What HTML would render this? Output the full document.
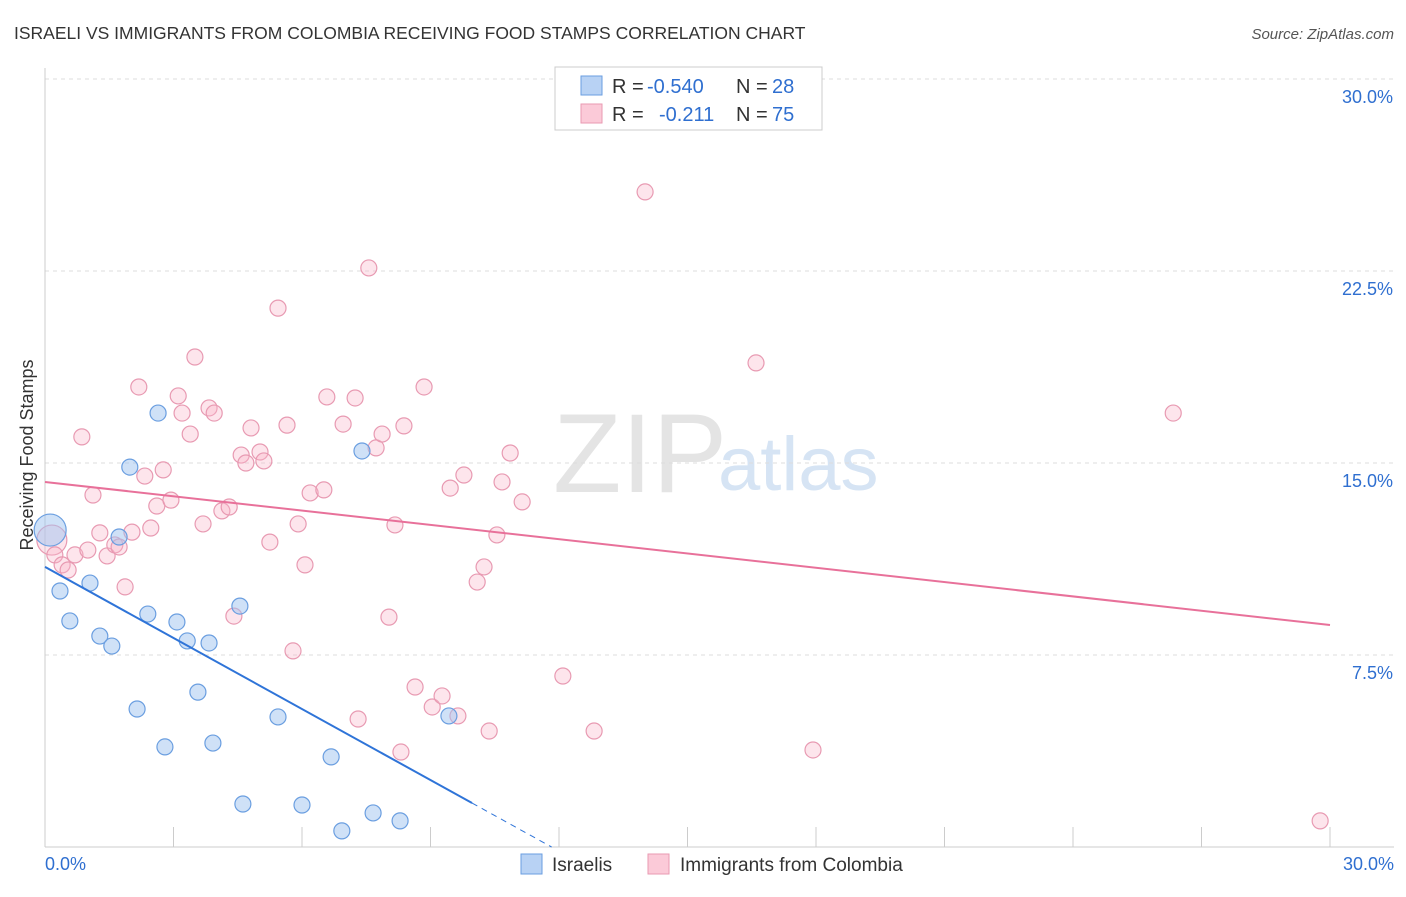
<!DOCTYPE html>
<html><head><meta charset="utf-8"><style>
body{margin:0;background:#fff;font-family:"Liberation Sans",sans-serif}
svg text{font-family:"Liberation Sans",sans-serif}
</style></head><body>
<svg id="c" width="1406" height="892">
<text x="14" y="39" font-size="17.5" fill="#333">ISRAELI VS IMMIGRANTS FROM COLOMBIA RECEIVING FOOD STAMPS CORRELATION CHART</text>
<text x="1394" y="39" font-size="15" fill="#555" text-anchor="end" font-style="italic">Source: ZipAtlas.com</text>
<text x="553" y="492" font-size="112" fill="#e4e4e4" font-family="Liberation Serif">ZIP</text>
<text x="718" y="490" font-size="76" fill="#d6e4f4">atlas</text>
<g id="grid"></g>
<g id="axes"></g>
<text transform="translate(33,455) rotate(-90)" font-size="18" fill="#333" text-anchor="middle">Receiving Food Stamps</text>
<g id="pts"></g>
<g id="lines"></g>
<g>
<rect x="555" y="67" width="267" height="63" fill="#fff" stroke="#ccc"/>
<rect x="581" y="76" width="21" height="19" fill="#b8d2f4" stroke="#6a9ee0"/>
<rect x="581" y="104" width="21" height="19" fill="#fbcad8" stroke="#e89ab2"/>
<text y="93" font-size="20" fill="#333"><tspan x="612">R =</tspan><tspan x="647" fill="#2f6fd0">-0.540</tspan><tspan x="736">N =</tspan><tspan x="772" fill="#2f6fd0">28</tspan></text>
<text y="121" font-size="20" fill="#333"><tspan x="612">R =</tspan><tspan x="659" fill="#2f6fd0">-0.211</tspan><tspan x="736">N =</tspan><tspan x="772" fill="#2f6fd0">75</tspan></text>
</g>
<g>
<rect x="521" y="854" width="21" height="20" fill="#b8d2f4" stroke="#6a9ee0"/>
<text x="552" y="871" font-size="19" fill="#333">Israelis</text>
<rect x="648" y="854" width="21" height="20" fill="#fbcad8" stroke="#e89ab2"/>
<text x="680" y="871" font-size="19" fill="#333">Immigrants from Colombia</text>
</g>
</svg>
<script>
const yTicks=[7.5,15,22.5,30];
const yTickLabels=["7.5%","15.0%","22.5%","30.0%"];
const xTickLabels=["0.0%","30.0%"];
const blueX=[0.12,0.35,0.58,1.05,1.28,1.56,1.98,1.73,2.15,2.40,2.64,2.80,3.08,3.32,3.57,3.83,3.92,4.55,4.62,5.44,6.00,6.68,6.93,7.40,7.66,8.29,9.43];
const blueY=[12.38,10.0,8.83,10.31,8.24,7.85,14.84,12.11,5.39,9.10,16.95,3.91,8.79,8.05,6.05,7.97,4.06,9.41,1.68,5.08,1.64,3.52,0.63,15.47,1.33,1.02,5.12];
const pinkX=[0.16,0.23,0.40,0.54,0.70,0.86,1.00,1.12,1.28,1.45,1.63,1.73,1.87,2.03,2.19,2.33,2.47,2.61,2.76,2.94,3.11,3.20,3.39,3.50,3.69,3.83,3.95,4.13,4.30,4.41,4.58,4.69,4.81,5.02,5.11,5.25,5.44,5.65,5.79,5.91,6.07,6.19,6.51,6.58,6.96,7.24,7.31,7.56,7.73,7.87,8.03,8.17,8.31,8.38,8.64,8.85,9.04,9.27,9.46,9.64,9.78,10.09,10.25,10.37,10.55,10.67,10.86,11.14,12.09,12.82,14.01,16.60,17.93,26.34,29.77];
const pinkY=[11.99,11.41,11.02,10.82,11.41,16.02,11.60,13.75,12.27,11.37,11.80,11.72,10.16,12.30,17.97,14.49,12.46,13.32,14.73,13.55,17.62,16.95,16.13,19.14,12.62,17.15,16.95,13.13,13.28,9.02,15.31,15.0,16.37,15.43,15.08,11.91,21.05,16.48,7.66,12.62,11.02,13.83,13.95,17.58,16.52,17.54,5.0,22.62,15.59,16.13,8.98,12.58,3.71,16.45,6.25,17.97,5.47,5.90,14.02,5.12,14.53,10.35,10.94,4.53,12.19,14.26,15.39,13.48,6.68,4.53,25.59,18.91,3.79,16.95,1.02];
const blueFit=[10.94,-0.925];
const pinkFit=[14.26,-0.1863];
const X0=45,X1=1330,Y0=847;
const sx=v=>X0+(X1-X0)*v/30, sy=v=>Y0-v*25.6;
const NS="http://www.w3.org/2000/svg";
function mk(p,t,a){const e=document.createElementNS(NS,t);for(const k in a)e.setAttribute(k,a[k]);document.getElementById(p).appendChild(e);return e;}
yTicks.forEach((t,i)=>{
 const g=mk('grid','line',{x1:45,x2:1394,y1:sy(t),y2:sy(t),stroke:'#ddd','stroke-dasharray':'4,4'});
 
 
 const l=mk('axes','text',{x:1393,y:sy(t)+24,'font-size':18,fill:'#2f6fd0','text-anchor':'end'});
 l.textContent=yTickLabels[i];
 
 
});
const ax=mk('axes','line',{x1:45,x2:1394,y1:Y0,y2:Y0,stroke:'#ccc'});


const ay=mk('axes','line',{x1:45,x2:45,y1:68,y2:Y0,stroke:'#ccc'});


for(let i=1;i<=10;i++){
 const t=mk('axes','line',{x1:sx(i*3),x2:sx(i*3),y1:Y0,y2:Y0-20,stroke:'#ccc'});
 
 
}
[[0,'start',45],[30,'end',1394]].forEach((d,i)=>{
 const l=mk('axes','text',{x:d[2],y:870,'font-size':18,fill:'#2f6fd0','text-anchor':d[1]});
 l.textContent=xTickLabels[i];
 
 
});
pinkX.forEach((x,i)=>{
 const c=mk('pts','circle',{cx:sx(x),cy:sy(pinkY[i]),r:i==0?15:8,fill:'rgba(248,180,200,0.35)',stroke:'#e89ab2','stroke-width':1.2});
 
 
});
blueX.forEach((x,i)=>{
 const c=mk('pts','circle',{cx:sx(x),cy:sy(blueY[i]),r:i==0?16:8,fill:'rgba(160,196,240,0.5)',stroke:'#6a9ee0','stroke-width':1.2});
 
 
});
const bl=mk('lines','line',{x1:sx(0),y1:sy(blueFit[0]),x2:sx(9.97),y2:sy(blueFit[0]+blueFit[1]*9.97),stroke:'#2f74d8','stroke-width':2});


const xe=-blueFit[0]/blueFit[1];
const bd=mk('lines','line',{x1:sx(9.97),y1:sy(blueFit[0]+blueFit[1]*9.97),x2:sx(xe),y2:sy(0),stroke:'#2f74d8','stroke-width':1,'stroke-dasharray':'6,5'});


const pl=mk('lines','line',{x1:sx(0),y1:sy(pinkFit[0]),x2:sx(30),y2:sy(pinkFit[0]+pinkFit[1]*30),stroke:'#e8719a','stroke-width':2});


</script>
</body></html>
